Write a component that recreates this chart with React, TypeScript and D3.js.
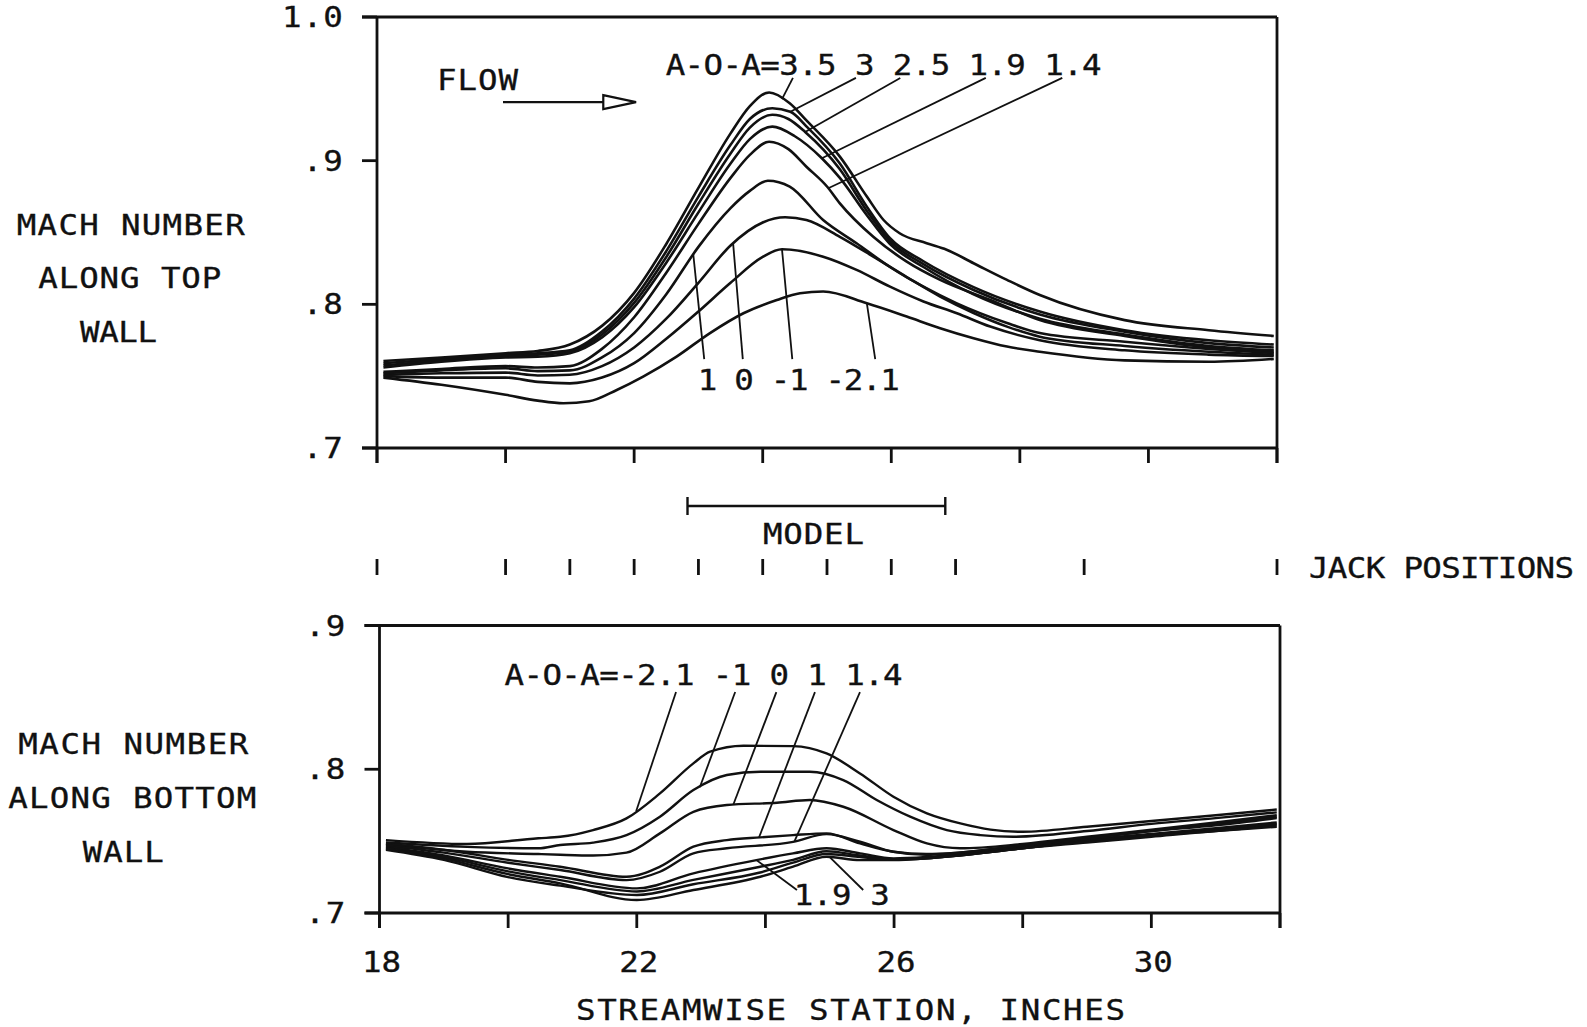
import React from 'react';
import * as d3 from 'd3';

// ---------- axes / ticks ----------
const X_TICKS = [18, 20, 22, 24, 26, 28, 30, 32];
const X_TICK_LABELS = [18, 22, 26, 30];
const TOP_Y_TICKS = [0.7, 0.8, 0.9, 1.0];
const TOP_Y_LABELS = ['.7', '.8', '.9', '1.0'];
const BOT_Y_TICKS = [0.7, 0.8, 0.9];
const BOT_Y_LABELS = ['.7', '.8', '.9'];
const JACK_POSITIONS = [18, 20, 21, 22, 23, 24, 25, 26, 27, 29, 32];
const MODEL_SPAN = [22.83, 26.84];

// ---------- top wall: [station (in), Mach] ----------
const TOP_3_5 = [[18.1,0.7606],[19,0.763],[20,0.766],[20.5,0.7675],[21,0.772],[21.5,0.785],[22,0.808],[22.5,0.842],[23,0.881],[23.5,0.919],[23.8,0.938],[24.1,0.9475],[24.42,0.94],[24.68,0.928],[25.2,0.9028],[25.62,0.875],[25.88,0.8587],[26.13,0.8495],[26.55,0.8425],[26.86,0.838],[27.28,0.8286],[27.8,0.817],[28.31,0.8065],[29.63,0.789],[30.94,0.782],[31.95,0.778]];
const TOP_3 = [[18.1,0.759],[19,0.762],[20,0.765],[20.5,0.766],[21,0.768],[21.5,0.781],[22,0.804],[22.5,0.837],[23,0.875],[23.5,0.911],[23.8,0.929],[24.15,0.9365],[24.43,0.934],[24.7,0.923],[25.2,0.898],[25.62,0.868],[25.98,0.846],[26.5,0.83],[27.28,0.812],[28.31,0.795],[29.63,0.782],[30.94,0.775],[31.95,0.772]];
const TOP_2_5 = [[18.1,0.7575],[19,0.761],[20,0.764],[20.5,0.765],[21,0.767],[21.5,0.779],[22,0.801],[22.5,0.833],[23,0.87],[23.5,0.905],[23.8,0.923],[24.15,0.932],[24.4,0.929],[24.66,0.92],[25.2,0.894],[25.62,0.865],[25.98,0.844],[26.5,0.828],[27.28,0.81],[28.31,0.793],[29.63,0.781],[30.94,0.773],[31.95,0.77]];
const TOP_1_9 = [[18.1,0.756],[19,0.76],[20,0.763],[20.5,0.7635],[21,0.766],[21.5,0.777],[22,0.798],[22.5,0.829],[23,0.864],[23.5,0.898],[23.8,0.915],[24.15,0.9237],[24.5,0.917],[24.92,0.9017],[25.2,0.888],[25.62,0.862],[25.98,0.842],[26.5,0.826],[27.28,0.807],[28.31,0.79],[29.63,0.779],[30.94,0.771],[31.95,0.768]];
const TOP_1_4 = [[18.1,0.753],[19,0.755],[20,0.757],[20.5,0.756],[21,0.757],[21.5,0.769],[22,0.791],[22.5,0.822],[23,0.856],[23.5,0.888],[23.8,0.904],[24.1,0.9132],[24.4,0.908],[24.68,0.8958],[25,0.882],[25.2,0.8703],[25.72,0.847],[26.24,0.8297],[26.76,0.817],[27.54,0.803],[28.31,0.789],[29.63,0.778],[30.94,0.77],[31.95,0.767]];
const TOP_1 = [[18.1,0.752],[19,0.754],[20,0.7555],[20.5,0.7535],[21,0.754],[21.5,0.763],[22,0.78],[22.5,0.807],[23,0.84],[23.5,0.867],[23.8,0.879],[24.08,0.886],[24.42,0.882],[24.94,0.8587],[25.46,0.8425],[25.98,0.826],[26.5,0.8123],[27.02,0.8007],[27.8,0.787],[28.31,0.78],[29.63,0.774],[30.94,0.769],[31.95,0.766]];
const TOP_0 = [[18.1,0.751],[19,0.752],[20,0.7525],[20.5,0.7505],[21,0.751],[21.5,0.757],[22,0.77],[22.5,0.79],[23,0.815],[23.5,0.841],[24,0.857],[24.35,0.8606],[24.68,0.8587],[25.2,0.847],[25.72,0.8332],[26.24,0.819],[26.76,0.8054],[27.28,0.794],[27.8,0.7845],[28.31,0.7775],[29.63,0.771],[30.94,0.767],[31.95,0.765]];
const TOP_M1 = [[18.1,0.75],[19,0.749],[20,0.749],[20.5,0.746],[21,0.745],[21.5,0.749],[22,0.759],[22.5,0.776],[23,0.795],[23.5,0.815],[24,0.833],[24.3,0.8383],[24.94,0.8332],[25.46,0.824],[25.98,0.8123],[26.5,0.802],[27.02,0.7938],[27.54,0.7845],[28.31,0.775],[29.63,0.768],[30.94,0.765],[31.95,0.764]];
const TOP_M2_1 = [[18.1,0.749],[19,0.744],[20,0.737],[20.5,0.733],[20.9,0.7312],[21.3,0.7325],[21.73,0.7404],[22.14,0.7497],[22.66,0.7636],[23.18,0.78],[23.7,0.7938],[24.22,0.803],[24.58,0.8077],[24.94,0.8089],[25.62,0.8007],[26.24,0.7915],[26.76,0.7834],[27.28,0.7764],[27.8,0.7706],[28.31,0.767],[29.63,0.761],[30.94,0.76],[31.95,0.762]];

// ---------- bottom wall ----------
const BOT_M2_1 = [[18.1,0.7507],[19.36,0.748],[20.47,0.752],[20.81,0.753],[21.32,0.7577],[21.84,0.7658],[22.36,0.7832],[22.88,0.8041],[23.14,0.8122],[23.66,0.8164],[24.43,0.8161],[24.95,0.811],[25.47,0.7971],[25.99,0.7809],[26.51,0.7693],[27.03,0.7623],[27.5,0.758],[28,0.7565],[29,0.76],[30,0.764],[31,0.768],[31.95,0.772]];
const BOT_M1 = [[18.1,0.749],[19.36,0.746],[20.47,0.745],[20.81,0.7473],[21.32,0.749],[21.84,0.7542],[22.36,0.767],[22.88,0.7855],[23.4,0.796],[23.92,0.7983],[24.69,0.7983],[25.21,0.7925],[25.73,0.7786],[26.25,0.767],[26.82,0.7577],[27.34,0.7542],[27.85,0.753],[29,0.757],[30,0.762],[31,0.766],[31.95,0.77]];
const BOT_0 = [[18.1,0.748],[19.36,0.7426],[20.47,0.741],[20.81,0.7405],[21.32,0.74],[21.84,0.742],[22.36,0.7554],[22.88,0.7704],[23.4,0.7751],[24.18,0.7767],[24.69,0.7786],[25.21,0.7739],[25.99,0.7577],[26.51,0.7484],[27.03,0.745],[28,0.748],[29,0.753],[30,0.758],[31,0.763],[31.95,0.768]];
const BOT_1 = [[18.1,0.748],[19,0.744],[20,0.737],[20.81,0.7322],[21.84,0.7252],[22.36,0.7322],[22.88,0.7461],[23.4,0.7507],[23.92,0.7526],[24.43,0.7542],[24.95,0.7554],[25.47,0.7484],[25.99,0.7426],[26.5,0.741],[27,0.742],[28,0.747],[29,0.752],[30,0.757],[31,0.762],[31.95,0.767]];
const BOT_1_4 = [[18.1,0.747],[19,0.742],[20,0.735],[20.81,0.7299],[21.84,0.7229],[22.36,0.7287],[22.88,0.7415],[23.4,0.745],[24.43,0.7495],[24.95,0.7549],[25.47,0.7496],[25.99,0.7426],[26.5,0.7405],[27,0.742],[28,0.747],[29,0.752],[30,0.757],[31,0.761],[31.95,0.766]];
const BOT_1_9 = [[18.1,0.746],[19,0.74],[20,0.731],[20.81,0.7252],[22,0.7171],[22.88,0.7276],[23.86,0.7368],[24.43,0.7415],[24.95,0.745],[25.47,0.7415],[25.99,0.738],[26.5,0.739],[27,0.741],[28,0.746],[29,0.751],[30,0.755],[31,0.759],[31.95,0.763]];
const BOT_2_5 = [[18.1,0.745],[19,0.739],[20,0.729],[20.81,0.7229],[22,0.715],[22.88,0.723],[23.9,0.732],[24.43,0.737],[24.95,0.743],[25.47,0.74],[26,0.7375],[26.5,0.738],[27,0.74],[28,0.745],[29,0.75],[30,0.754],[31,0.758],[31.95,0.762]];
const BOT_3 = [[18.1,0.745],[19,0.738],[20,0.727],[20.81,0.7206],[22,0.709],[22.88,0.716],[23.92,0.7252],[24.43,0.7322],[24.95,0.7391],[25.47,0.7368],[26,0.7368],[26.5,0.738],[27,0.74],[28,0.745],[29,0.75],[30,0.754],[31,0.757],[31.95,0.761]];
const BOT_3_5 = [[18.1,0.744],[19,0.737],[20,0.725],[20.81,0.719],[22,0.7125],[22.88,0.72],[23.9,0.728],[24.43,0.735],[24.95,0.741],[25.47,0.739],[26,0.737],[27,0.74],[28,0.745],[29,0.749],[30,0.753],[31,0.757],[31.95,0.76]];

const TOP_SERIES = [TOP_3_5, TOP_3, TOP_2_5, TOP_1_9, TOP_1_4, TOP_1, TOP_0, TOP_M1, TOP_M2_1];
const BOT_SERIES = [BOT_M2_1, BOT_M1, BOT_0, BOT_1, BOT_1_4, BOT_1_9, BOT_2_5, BOT_3, BOT_3_5];

// ---------- annotations: label text, leader start station, leader end station on its curve ----------
const TOP_UPPER_LABELS = [
  { text: '3.5', from: 24.47, to: 24.3, s: TOP_3_5 },
  { text: '3', from: 25.45, to: 24.43, s: TOP_3 },
  { text: '2.5', from: 26.14, to: 24.66, s: TOP_2_5 },
  { text: '1.9', from: 27.47, to: 24.92, s: TOP_1_9 },
  { text: '1.4', from: 28.66, to: 25.02, s: TOP_1_4 },
];
const TOP_LOWER_LABELS = [
  { text: '1', from: 23.09, to: 22.92, s: TOP_1 },
  { text: '0', from: 23.69, to: 23.54, s: TOP_0 },
  { text: '-1', from: 24.46, to: 24.3, s: TOP_M1 },
  { text: '-2.1', from: 25.75, to: 25.62, s: TOP_M2_1 },
];
const BOT_UPPER_LABELS = [
  { text: '-2.1', from: 22.61, to: 21.99, s: BOT_M2_1 },
  { text: '-1', from: 23.53, to: 22.98, s: BOT_M1 },
  { text: '0', from: 24.17, to: 23.5, s: BOT_0 },
  { text: '1', from: 24.77, to: 23.9, s: BOT_1 },
  { text: '1.4', from: 25.47, to: 24.45, s: BOT_1_4 },
];
const BOT_LOWER_LABELS = [
  { text: '1.9', from: 24.49, to: 23.86, s: BOT_1_9 },
  { text: '3', from: 25.52, to: 25.0, s: BOT_3 },
];

const FONT = "'DejaVu Sans Mono', 'Liberation Mono', monospace";
const INK = '#111';
const SX = 1.12; // plotter glyphs are wider than the mono font

function yAt(s: number[][], x: number) {
  for (let i = 0; i < s.length - 1; i++) {
    if (x >= s[i][0] && x <= s[i + 1][0]) {
      const t = (x - s[i][0]) / (s[i + 1][0] - s[i][0]);
      return s[i][1] + t * (s[i + 1][1] - s[i][1]);
    }
  }
  return s[s.length - 1][1];
}

// Text in the plotter style: horizontally stretched mono font with a slightly heavier stroke.
function T(props: any) {
  const { children, x, y, textLength, textAnchor, letterSpacing } = props;
  return (
    <g transform={`translate(${x},${y}) scale(${SX},1)`}>
      <text
        x={0}
        y={0}
        fontFamily={FONT}
        fontSize={29}
        fill={INK}
        stroke={INK}
        strokeWidth={0.35}
        textAnchor={textAnchor || 'start'}
        letterSpacing={letterSpacing}
        textLength={textLength ? textLength / SX : undefined}
        lengthAdjust={textLength ? 'spacing' : undefined}
      >
        {children}
      </text>
    </g>
  );
}

export default function App() {
  const xT = d3.scaleLinear().domain([18, 32]).range([377, 1277]);
  const yT = d3.scaleLinear().domain([0.7, 1.0]).range([448, 17]);
  const xB = d3.scaleLinear().domain([18, 32]).range([379.5, 1280]);
  const yB = d3.scaleLinear().domain([0.7, 0.9]).range([913, 625.5]);

  const lineT = d3.line<number[]>().x((d) => xT(d[0])).y((d) => yT(d[1])).curve(d3.curveMonotoneX);
  const lineB = d3.line<number[]>().x((d) => xB(d[0])).y((d) => yB(d[1])).curve(d3.curveMonotoneX);

  const tickLen = 15;
  const axisW = 2.8;
  const curveW = 2.6;

  const frame = (x: any, y: any, yTicks: number[], yLabels: string[]) => {
    const [x0, x1] = x.range();
    const [yb, yt] = y.range();
    return (
      <g>
        <line x1={x0} y1={yt} x2={x0} y2={yb + tickLen} stroke={INK} strokeWidth={axisW} />
        <line x1={x1} y1={yt} x2={x1} y2={yb + tickLen} stroke={INK} strokeWidth={axisW} />
        <line x1={x0 - tickLen} y1={yt} x2={x1} y2={yt} stroke={INK} strokeWidth={axisW} />
        <line x1={x0 - tickLen} y1={yb} x2={x1} y2={yb} stroke={INK} strokeWidth={axisW} />
        {yTicks.map((v) => (
          <line key={'yt' + v} x1={x0 - tickLen} y1={y(v)} x2={x0} y2={y(v)} stroke={INK} strokeWidth={axisW} />
        ))}
        {X_TICKS.map((v) => (
          <line key={'xt' + v} x1={x(v)} y1={yb} x2={x(v)} y2={yb + tickLen} stroke={INK} strokeWidth={axisW} />
        ))}
        {yTicks.map((v, i) => (
          <T key={'yl' + v} x={x0 - 33} y={y(v) + 10} textAnchor="end" letterSpacing={1}>
            {yLabels[i]}
          </T>
        ))}
      </g>
    );
  };

  const leaderLines = (labels: any[], x: any, y: any, startM: number) =>
    labels.map((l) => (
      <line
        key={'ld' + l.text + startM}
        x1={x(l.from)}
        y1={y(startM)}
        x2={x(l.to)}
        y2={y(yAt(l.s, l.to))}
        stroke={INK}
        strokeWidth={1.8}
      />
    ));

  const yMid = 506;
  const yJack = 567;

  return (
    <svg
      width={1587}
      height={1027}
      viewBox="0 0 1587 1027"
      style={{ position: 'absolute', left: 0, top: 0, background: '#fff' }}
    >
      <rect x={0} y={0} width={1587} height={1027} fill="#fff" />

      {/* ---------- top chart ---------- */}
      {frame(xT, yT, TOP_Y_TICKS, TOP_Y_LABELS)}
      {TOP_SERIES.map((s, i) => (
        <path key={'ts' + i} d={lineT(s) || ''} fill="none" stroke={INK} strokeWidth={curveW} strokeLinejoin="round" />
      ))}
      <T x={437} y={90} textLength={81}>FLOW</T>
      <line x1={xT(19.96)} y1={yT(0.9408)} x2={xT(21.52)} y2={yT(0.9408)} stroke={INK} strokeWidth={2.2} />
      <path
        d={`M${xT(21.52)},${yT(0.9408) - 7} L${xT(22.03)},${yT(0.9408)} L${xT(21.52)},${yT(0.9408) + 7} Z`}
        fill="#fff"
        stroke={INK}
        strokeWidth={2.2}
      />
      <T x={xT(22.49)} y={yT(0.9597)} textLength={436}>
        {'A-O-A=' + TOP_UPPER_LABELS.map((l) => l.text).join(' ')}
      </T>
      {leaderLines(TOP_UPPER_LABELS, xT, yT, 0.9576)}
      <T x={xT(22.99)} y={yT(0.7404)} textLength={202}>
        {TOP_LOWER_LABELS.map((l) => l.text).join(' ')}
      </T>
      {leaderLines(TOP_LOWER_LABELS, xT, yT, 0.7619)}

      <T x={16.7} y={235} textLength={228}>MACH NUMBER</T>
      <T x={38.3} y={288} textLength={183}>ALONG TOP</T>
      <T x={80} y={341.5} textLength={77}>WALL</T>

      {/* ---------- model & jacks ---------- */}
      <line x1={xT(MODEL_SPAN[0])} y1={yMid} x2={xT(MODEL_SPAN[1])} y2={yMid} stroke={INK} strokeWidth={2.6} />
      <line x1={xT(MODEL_SPAN[0])} y1={yMid - 9} x2={xT(MODEL_SPAN[0])} y2={yMid + 9} stroke={INK} strokeWidth={2.4} />
      <line x1={xT(MODEL_SPAN[1])} y1={yMid - 9} x2={xT(MODEL_SPAN[1])} y2={yMid + 9} stroke={INK} strokeWidth={2.4} />
      <T x={763} y={544} textLength={101}>MODEL</T>
      {JACK_POSITIONS.map((j) => (
        <line key={'j' + j} x1={xT(j)} y1={yJack - 8} x2={xT(j)} y2={yJack + 8} stroke={INK} strokeWidth={2.8} />
      ))}
      <T x={1309} y={578} textLength={265}>JACK POSITIONS</T>

      {/* ---------- bottom chart ---------- */}
      {frame(xB, yB, BOT_Y_TICKS, BOT_Y_LABELS)}
      {BOT_SERIES.map((s, i) => (
        <path key={'bs' + i} d={lineB(s) || ''} fill="none" stroke={INK} strokeWidth={2.4} strokeLinejoin="round" />
      ))}
      <T x={xB(19.945)} y={yB(0.8586)} textLength={398}>
        {'A-O-A=' + BOT_UPPER_LABELS.map((l) => l.text).join(' ')}
      </T>
      {leaderLines(BOT_UPPER_LABELS, xB, yB, 0.8537)}
      <T x={xB(24.44)} y={yB(0.7056)} textLength={96}>
        {BOT_LOWER_LABELS.map((l) => l.text).join(' ')}
      </T>
      {leaderLines(BOT_LOWER_LABELS, xB, yB, 0.716)}
      {X_TICK_LABELS.map((v) => (
        <T key={'xl' + v} x={xB(v) + 2} y={972} textAnchor="middle">
          {v}
        </T>
      ))}
      <T x={576} y={1020} textLength={549}>STREAMWISE STATION, INCHES</T>

      <T x={18.3} y={754} textLength={230}>MACH NUMBER</T>
      <T x={8.3} y={808} textLength={248}>ALONG BOTTOM</T>
      <T x={82.7} y={861.5} textLength={81}>WALL</T>
    </svg>
  );
}
